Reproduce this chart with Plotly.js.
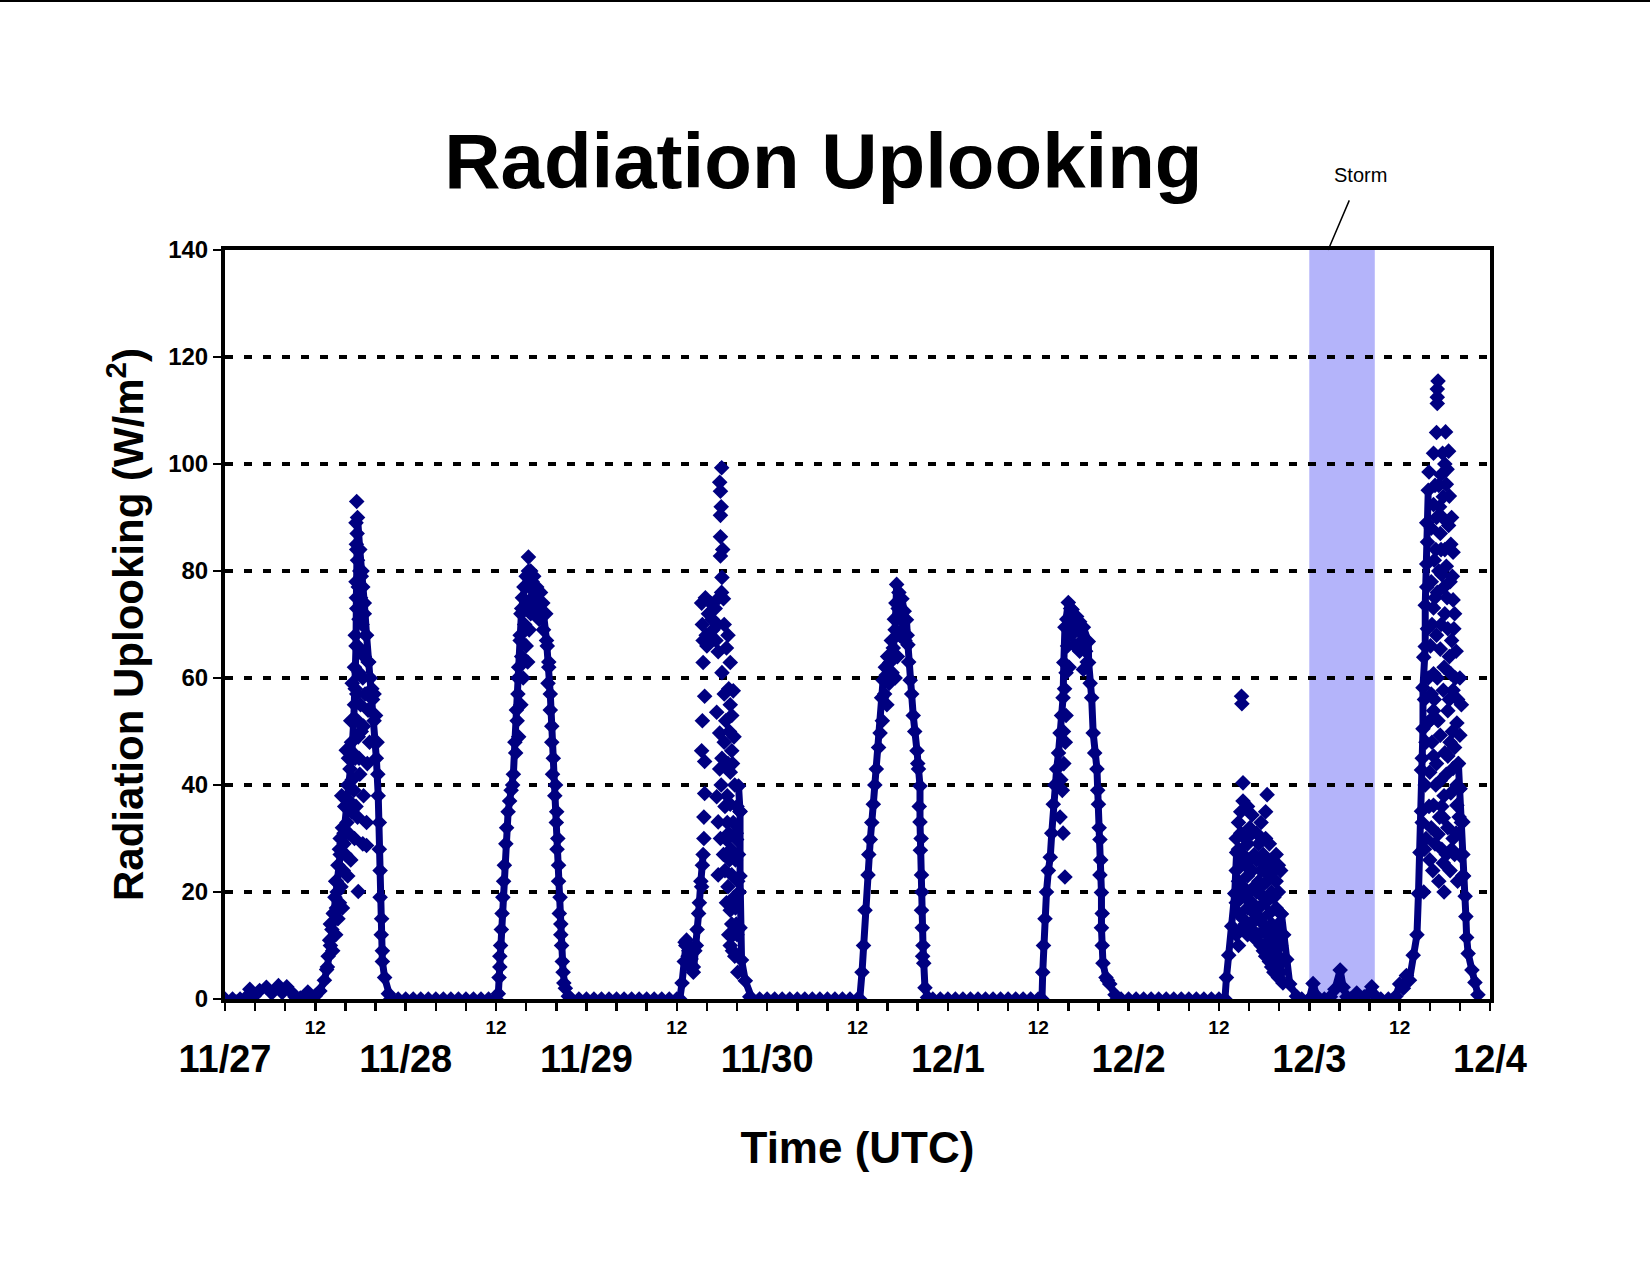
<!DOCTYPE html>
<html>
<head>
<meta charset="utf-8">
<script src="https://cdn.plot.ly/plotly-3.0.1.min.js"></script>
<style>
  html, body { margin: 0; padding: 0; background: #ffffff; }
  #wrap { position: relative; width: 1650px; height: 1275px; }
  #topline { position: absolute; left: 0; top: 0; width: 1650px; height: 2px; background: #000; z-index: 5; }
  #chart { width: 1650px; height: 1275px; }
</style>
</head>
<body>
<div id="wrap"><div id="topline"></div><div id="chart"></div></div>
<script>
// ---------------- DATA (hours since 11/27 00:00 UTC, W/m^2) ----------------
const tickHours = [0,4,8,12,16,20,24,28,32,36,40,44,48,52,56,60,64,68,72,76,80,84,88,92,96,100,104,108,112,116,120,124,128,132,136,140,144,148,152,156,160,164,168];
const noonHours = [12,36,60,84,108,132,156];
const noonLabels = ['12','12','12','12','12','12','12'];
const dayHours = [0,24,48,72,96,120,144,168];
const dayLabels = ['11/27','11/28','11/29','11/30','12/1','12/2','12/3','12/4'];
const yTicks = [0,20,40,60,80,100,120,140];
const stormStart = 144;
const stormEnd = 152.7;

// continuous parts of the record: [hour, value]
const day1Line = [[0,0],[1,0],[2,0],[2.8,0.3],[3.3,1.8],[3.9,0.6],[4.6,1.6],[5.5,2.2],[6.2,1.1],[7.1,2.5],[7.6,1.2],[8.2,2.3],[8.8,1.3],[9.3,0.4],[10,0.2],[10.6,0.4],[11,1.3],[11.5,0.3],[12,0.6],[12.6,1.5],[13.2,3.5],[13.6,6],[14,10],[14.4,16],[14.8,22],[15.3,27],[15.8,31],[16.3,37],[16.8,45],[17.1,52],[17.3,58],[17.4,66],[17.45,75],[17.5,84],[17.6,90],[17.9,84],[18.2,80],[18.5,74],[18.8,68],[19.1,63],[19.5,58],[19.8,52],[20.1,45],[20.35,38],[20.5,28],[20.6,19],[20.75,12],[20.9,7],[21.2,4],[21.7,1],[22,0],[23,0]];
const day2Line = [[24,0],[25,0],[26,0],[27,0],[28,0],[29,0],[30,0],[31,0],[32,0],[33,0],[34,0],[35,0],[36,0],[36.3,1],[36.5,6],[36.6,10],[36.8,16],[37.0,22],[37.3,29],[37.6,35],[38.0,39],[38.3,42],[38.5,48],[38.7,54],[38.9,60],[39.2,67],[39.4,73],[39.8,77],[40.3,80],[40.8,78],[41.3,76],[41.8,74],[42.3,72],[42.7,67],[43.0,62],[43.2,57],[43.4,51],[43.6,45],[43.9,40],[44.05,35],[44.2,30],[44.3,25],[44.5,19],[44.6,14],[44.7,10],[44.9,5],[45.2,2],[45.6,0.5],[46,0],[47,0]];
const day3Line = [[48,0],[49,0],[50,0],[51,0],[52,0],[53,0],[54,0],[55,0],[56,0],[57,0],[58,0],[59,0],[60,0],[60.4,0],[60.7,3],[61.0,7],[61.2,10],[61.5,8],[61.8,6],[62.2,5],[62.6,10],[62.9,16],[63.2,22],[63.5,27],[null,null],[68.2,39.8],[68.4,35],[68.4,23],[68.4,13.3],[68.6,7.3],[69.1,3.4],[69.7,0.4],[70,0],[71,0]];
const day4Line = [[72,0],[73,0],[74,0],[75,0],[76,0],[77,0],[78,0],[79,0],[80,0],[81,0],[82,0],[83,0],[84,0],[84.3,0],[84.6,5],[84.8,10],[85.0,16.6],[85.4,23.2],[85.7,29.8],[86.1,36.4],[86.5,43],[87.0,49.7],[87.2,56.3],[87.4,59.6],[87.8,60.5],[88.3,62.9],[88.75,65.6],[89.0,69],[89.1,74],[89.2,77.5],[89.5,76],[89.9,74.8],[90.2,72.5],[90.5,70.9],[90.7,66.2],[91.0,59.6],[91.4,53],[91.9,46.4],[92.1,43],[92.3,39.8],[92.3,33.1],[92.35,27.8],[92.5,23.2],[92.5,16.6],[92.6,13.3],[92.7,10],[92.8,6.7],[92.96,2.1],[93.3,0.3],[94,0],[95,0]];
const day5Line = [[96,0],[97,0],[98,0],[99,0],[100,0],[101,0],[102,0],[103,0],[104,0],[105,0],[106,0],[107,0],[108,0],[108.5,0],[108.6,5],[108.7,10],[108.9,15],[109.1,20],[109.35,24],[109.6,26.5],[109.8,31],[110.0,36.4],[110.2,40],[110.45,43],[110.7,46],[110.9,49.7],[111.1,53],[111.3,56.3],[111.4,62.9],[111.55,69.5],[112.0,74.1],[112.5,72.8],[113.1,71.5],[113.5,70.5],[114.0,69.5],[114.65,66.8],[114.7,62.9],[115.1,56.3],[115.3,49.7],[115.8,43],[116.0,36.4],[116.2,29.8],[116.2,23.2],[116.4,19.9],[116.4,13.3],[116.6,6.7],[117.0,4],[117.5,2.8],[118.2,0.8],[118.5,0],[119,0]];
const day6Line = [[120,0],[121,0],[122,0],[123,0],[124,0],[125,0],[126,0],[127,0],[128,0],[129,0],[130,0],[131,0],[132,0],[132.8,0],[133.0,4],[133.3,8.2],[133.7,13.6],[134.1,19.7],[134.35,27.4],[null,null],[140.3,15.9],[140.6,12],[141.0,7.4],[141.4,2.8],[142.3,0.5],[143,0]];
const day7Line = [[144,0],[144.5,2.9],[145.0,0.5],[146,0],[146.8,0.4],[147.4,1.8],[148.1,5.4],[148.5,2.2],[149.0,0.4],[149.5,0],[150.3,1.1],[151.3,0.4],[152.3,2.3],[152.8,0.5],[153.5,0],[154.5,0],[155.5,0.5],[156.0,2.8],[156.5,2],[156.9,4.4],[157.3,3.5],[157.8,8.2],[158.3,12],[158.5,19.7],[158.7,27.4],[158.9,35.1],[158.9,42.8],[159.1,50.5],[159.1,58.2],[159.4,65.9],[159.4,73.6],[159.6,81.3],[159.6,89],[159.8,95.1],[null,null],[163.8,44],[164.0,39.3],[164.2,33],[164.4,27],[164.5,23],[164.7,19.2],[164.8,15.4],[164.9,11.5],[165.1,8.5],[165.6,5.4],[166.0,3.1],[166.4,0.8]];

// scattered readings: [hour, value]
const day1Cloud = [[17.49,93],[17.4,89],[17.55,87],[17.45,85],[17.7,84],[17.6,82],[17.9,80],[18.1,79],[17.4,78],[17.7,77],[18.3,77],[18.0,75],[17.5,73],[18.5,72],[17.8,71],[18.2,70],[17.3,68],[18.7,68],[17.6,66],[18.0,65],[18.5,64],[19.0,63],[17.2,62],[17.8,61],[18.3,60],[19.3,60],[16.9,59],[17.5,57],[18.6,57],[19.6,56],[18.0,55],[19.0,54],[20.0,53],[17.1,52],[18.4,51],[17.7,49],[16.8,48],[19.2,48],[16.1,46.5],[17.3,45],[18.9,44],[16.6,43],[17.9,42],[16.3,40],[17.1,39],[18.4,38],[15.9,36],[16.8,35],[17.6,34],[18.8,33],[15.6,32],[16.4,31],[17.2,30],[18.3,29],[18.8,28.7],[15.2,28],[16.0,27],[16.7,26],[15.0,25],[15.7,24],[16.3,23],[14.7,22],[15.4,21],[17.7,20.1],[14.6,19],[15.2,18],[14.4,16],[15.0,15],[14.2,13],[14.7,12],[13.9,11],[14.3,9],[13.7,8],[13.5,5.5],[20.2,48],[20.3,42],[19.8,57],[20.5,33],[20.6,24],[20.8,15],[20.9,9],[15.3,30],[15.8,29],[16.2,33],[16.5,37],[16.9,41],[17.0,46],[16.7,52],[17.2,55],[17.6,52],[16.4,45],[16.0,31],[15.5,38],[17.4,36],[17.8,45],[18.1,50],[14.9,20],[15.6,17],[14.0,14],[14.8,17]];
const day2Cloud = [[40.3,82.6],[40.6,80],[40.0,79],[41.0,79],[39.7,77],[40.4,77],[41.4,77],[39.5,75],[40.8,75],[41.9,76],[40.1,74],[41.2,73],[42.2,74],[39.3,72],[40.6,72],[41.7,71],[42.6,72],[39.8,70],[40.4,69],[42.3,69],[39.2,68],[40.0,66],[42.8,66],[39.4,64],[40.2,63],[43.0,63],[39.0,62],[39.6,60],[42.9,59],[38.9,57],[39.3,55],[43.2,54],[38.8,52],[39.0,49],[43.4,48],[38.6,46],[43.5,42],[38.2,40],[43.8,38],[37.8,37],[44.0,33],[37.4,32],[44.1,28],[37.1,25],[44.3,22],[36.9,19],[44.4,16],[36.7,13],[44.6,12],[36.5,8],[44.8,7],[36.4,4],[45.0,3]];
const day3Cloud = [[61.1,10.6],[61.3,11],[61.6,9],[61.9,7.5],[62.2,6],[62.4,9],[62.7,13],[63.0,18],[63.3,21],[63.4,25],[63.6,30],[63.3,46.4],[63.7,44.4],[63.7,38.4],[63.6,34],[63.7,56.6],[63.5,62.9],[63.3,74],[63.4,70],[63.5,67],[63.8,75],[63.9,68],[64.2,72],[64.5,74],[64.8,69],[65.1,73],[65.4,70],[65.6,75],[64.0,66],[63.4,52],[65.96,99.3],[65.7,96.6],[65.8,94.9],[65.8,90.4],[65.8,86.4],[65.8,82.8],[66.0,78.8],[66.2,74.8],[65.5,64.9],[66.6,65.6],[67.1,62.9],[66.0,61],[67.5,57.6],[67.1,55],[65.3,53.6],[65.7,49.7],[67.3,53],[67.3,46.4],[66.0,45],[67.1,42.4],[65.3,37.8],[65.5,33.1],[67.1,36.4],[68.4,35.1],[66.6,29.8],[67.95,29.8],[65.5,23.2],[67.3,23.2],[66.9,31],[67.5,33],[67.8,26],[66.8,21],[67.6,19],[68.0,12],[67.4,9],[66.4,36],[67.0,26],[67.1,16.6],[67.1,10],[66.6,18],[67.8,17],[66.2,27],[65.9,40],[66.5,52],[66.9,58],[67.4,44],[67.7,40],[68.0,36],[66.8,44],[67.6,49],[67.9,31],[68.2,27],[68.3,20],[67.3,14],[67.7,8],[68.1,5],[66.3,57],[65.9,92],[66.1,84],[65.95,76],[66.3,70],[66.8,68],[64.4,68],[65.2,67],[64.7,71],[66.7,33],[67.2,28],[66.4,24],[66.9,12],[67.5,12],[68.1,22],[67.9,14],[65.8,30],[65.7,43],[66.3,48],[67.0,50],[66.7,38]];
const day4Cloud = [[89.4,73],[89.7,71],[90.0,69],[90.3,67],[88.5,67],[88.9,71],[89.3,64],[88.6,61],[88.0,64],[87.7,62],[89.0,60],[89.6,68],[90.6,68],[87.6,57],[87.3,52],[86.8,47],[86.3,40],[85.9,33],[85.5,27],[91.2,57],[91.6,50],[92.0,44],[92.2,36],[92.45,30],[92.55,20],[92.65,8],[90.8,63],[88.2,59],[87.9,55]];
const day5Cloud = [[111.55,22.8],[110.9,34],[111.2,39],[111.4,44],[111.0,41],[111.3,31],[111.6,48],[111.8,71],[112.3,73],[112.8,70],[113.3,69],[113.8,67],[114.3,65],[114.0,61.6],[111.7,61],[111.9,66],[112.4,68],[112.9,66],[113.5,65],[111.5,58],[111.7,53],[114.5,63],[114.9,59],[115.5,46],[115.9,39],[116.1,32],[116.3,26],[116.5,16],[116.5,10],[117.2,3.5],[112.1,62],[111.35,50]];
const day6Cloud = [[135.0,56.6],[135.05,55.2],[134.3,12],[134.3,18],[134.3,24],[134.3,30],[134.6,10],[134.6,16],[134.6,22],[134.6,28],[134.6,33],[134.9,13],[134.9,20],[134.9,26],[134.9,31],[134.9,35],[135.2,15],[135.2,21],[135.2,27],[135.2,37],[135.2,40.4],[135.5,14],[135.5,19],[135.5,25],[135.5,30],[135.8,12],[135.8,17],[135.8,23],[135.8,29],[135.8,36],[136.1,14],[136.1,20],[136.1,26],[136.1,32],[136.4,13],[136.4,18],[136.4,24],[136.4,31],[136.4,34.4],[136.7,12],[136.7,16],[136.7,21],[136.7,27],[137.0,11],[137.0,15],[137.0,20],[137.0,26],[137.0,31],[137.3,12],[137.3,17],[137.3,22],[137.3,29],[137.6,10],[137.6,15],[137.6,21],[137.6,24],[137.6,33],[137.9,9],[137.9,14],[137.9,19],[137.9,27],[138.2,8],[138.2,13],[138.2,18],[138.2,25],[138.2,30],[138.2,35],[138.4,12],[138.4,22],[138.4,38.2],[138.7,7],[138.7,11],[138.7,16],[138.7,23],[138.7,29],[139.0,6],[139.0,10],[139.0,14],[139.0,20],[139.0,26],[139.3,5],[139.3,9],[139.3,13],[139.3,19],[139.3,24],[139.6,6],[139.6,11],[139.6,17],[139.6,22],[139.6,27],[139.9,4],[139.9,8],[139.9,14],[139.9,20],[139.9,25],[140.2,5],[140.2,10],[140.2,16],[140.2,24],[140.5,3],[140.5,7],[140.5,12]];
const day7Cloud = [[161.1,115.5],[161.0,114],[161.0,112.5],[161.0,111.3],[160.9,105.9],[160.5,102],[162.5,102.4],[163.1,83.5],[162.5,88.5],[161.8,93.9],[162.2,96.2],[159.9,98.5],[160.5,92.4],[161.4,87],[159.7,85.4],[162.2,80.9],[161.6,79.3],[163.1,74.6],[160.5,73.1],[159.7,69.2],[162.4,69.2],[163.2,69.2],[161.4,65.4],[159.2,63.9],[160.5,60.8],[162.8,60.8],[164.0,60],[161.8,57.7],[163.1,57.7],[160.5,53.9],[162.4,53.9],[159.7,51.6],[163.6,51.6],[164.0,49.3],[161.4,49.3],[160.5,45.4],[162.4,45.4],[163.1,43.1],[160.0,42.4],[161.4,40.8],[164.0,39.3],[162.8,38.5],[160.5,36.2],[163.6,36.2],[161.8,33.9],[164.4,33.1],[161.1,30.8],[163.1,30],[161.8,25.4],[164.0,26.9],[164.4,23.1],[160.2,88],[160.8,84],[161.2,96],[161.7,90],[162.0,84],[162.9,90],[162.7,78],[161.0,76],[160.2,78],[162.0,72],[160.9,68],[163.5,65],[161.9,62],[160.2,57],[162.6,56],[161.1,52],[163.3,47],[160.9,44],[162.0,46],[161.6,36],[160.2,32],[162.4,32],[163.3,27],[162.7,24],[161.2,22],[160.0,26],[159.4,40],[159.5,30],[163.8,44],[164.2,55],[162.1,106],[161.7,102],[162.3,99],[159.6,77],[159.3,56],[159.0,45],[159.2,20],[159.3,28],[159.0,33],[159.5,48],[159.8,60],[160.1,66],[160.3,70],[160.7,75],[160.6,82],[160.9,90],[161.3,92],[161.5,84],[161.9,77],[162.3,75],[162.6,64],[162.9,67],[163.4,60],[163.7,56],[163.0,50],[162.7,48],[162.2,42],[161.9,38],[161.3,34],[160.8,40],[160.3,48],[160.6,56],[161.0,60],[161.5,70],[161.2,80],[160.7,96],[161.5,98],[162.0,100],[162.6,94],[162.8,85],[163.0,79],[163.3,72],[163.6,40],[163.9,34],[163.5,31],[162.9,28],[162.2,27],[161.6,28],[160.7,29],[160.4,24],[161.9,20],[163.7,22],[159.9,36],[160.0,52]];

// ---------------- BUILD ----------------
const navy = '#000080';
const lineSeries = [].concat(day1Line, day2Line, day3Line, day4Line, day5Line, day6Line, day7Line);
const cloudSeries = [].concat(day1Cloud, day2Cloud, day3Cloud, day4Cloud, day5Cloud, day6Cloud, day7Cloud);

const font = 'Liberation Sans, Arial, Helvetica, sans-serif';

const traces = [
  {
    type: 'scatter', mode: 'lines+markers',
    x: lineSeries.map(p => p[0]), y: lineSeries.map(p => p[1]),
    line: { color: navy, width: 7 },
    marker: { symbol: 'diamond', size: 12, color: navy },
    connectgaps: false, hoverinfo: 'x+y', showlegend: false
  },
  {
    type: 'scatter', mode: 'markers',
    x: cloudSeries.map(p => p[0]), y: cloudSeries.map(p => p[1]),
    marker: { symbol: 'diamond', size: 12, color: navy },
    hoverinfo: 'x+y', showlegend: false
  },
  {
    type: 'scatter', mode: 'markers', xaxis: 'x2', yaxis: 'y',
    x: dayHours, y: dayHours.map(() => 0),
    marker: { opacity: 0, size: 1 }, hoverinfo: 'skip', showlegend: false
  }
];

const layout = {
  width: 1650, height: 1275,
  paper_bgcolor: '#ffffff', plot_bgcolor: '#ffffff',
  margin: { l: 225, r: 160, t: 250, b: 276 },
  showlegend: false,
  font: { family: font, color: '#000' },
  title: {
    text: 'Radiation Uplooking',
    font: { family: font, size: 78, weight: 'bold', color: '#000' },
    xref: 'paper', x: 0.473, xanchor: 'center',
    yref: 'container', y: 0.874, yanchor: 'middle'
  },
  xaxis: {
    range: [0, 168], type: 'linear',
    tickmode: 'array', tickvals: noonHours, ticktext: noonLabels,
    ticks: 'outside', ticklen: 8, tickwidth: 2.5, tickcolor: '#000',
    minor: { tickmode: 'array', tickvals: tickHours, ticks: 'outside', ticklen: 8, tickwidth: 2.5, tickcolor: '#000', showgrid: false },
    tickfont: { family: font, size: 19, weight: 'bold', color: '#000' },
    showline: true, linewidth: 4, linecolor: '#000', mirror: true,
    showgrid: false, zeroline: false,
    title: { text: 'Time (UTC)', font: { family: font, size: 44, weight: 'bold', color: '#000' }, standoff: 96 }
  },
  xaxis2: {
    overlaying: 'x', anchor: 'y', side: 'bottom',
    range: [0, 168], type: 'linear',
    tickmode: 'array', tickvals: dayHours, ticktext: dayLabels,
    ticks: '', showline: false, showgrid: false, zeroline: false,
    tickfont: { family: font, size: 38, weight: 'bold', color: '#000' },
    ticklabelstandoff: 34
  },
  yaxis: {
    range: [0, 140], type: 'linear',
    tickmode: 'array', tickvals: yTicks,
    ticks: 'outside', ticklen: 8, tickwidth: 2.5, tickcolor: '#000',
    tickfont: { family: font, size: 24, weight: 'bold', color: '#000' },
    showline: true, linewidth: 4, linecolor: '#000', mirror: true,
    showgrid: true, gridcolor: '#000', gridwidth: 4, griddash: '8px,11px',
    zeroline: false,
    title: { text: 'Radiation Uplooking (W/m<sup>2</sup>)', font: { family: font, size: 42, weight: 'bold', color: '#000' }, standoff: 12 }
  },
  shapes: [
    { type: 'rect', xref: 'x', yref: 'paper', x0: stormStart, x1: stormEnd, y0: 0, y1: 1,
      fillcolor: 'rgb(180,180,250)', line: { width: 0 }, layer: 'below' }
  ],
  annotations: [
    { text: 'Storm', xref: 'x', yref: 'paper', x: 146.5, y: 1,
      showarrow: true, arrowhead: 0, arrowwidth: 1.5, arrowcolor: '#000',
      ax: 32, ay: -75, startstandoff: 14,
      font: { family: font, size: 20, color: '#000' } }
  ]
};

Plotly.newPlot('chart', traces, layout, { displayModeBar: false, staticPlot: true });
</script>
</body>
</html>
